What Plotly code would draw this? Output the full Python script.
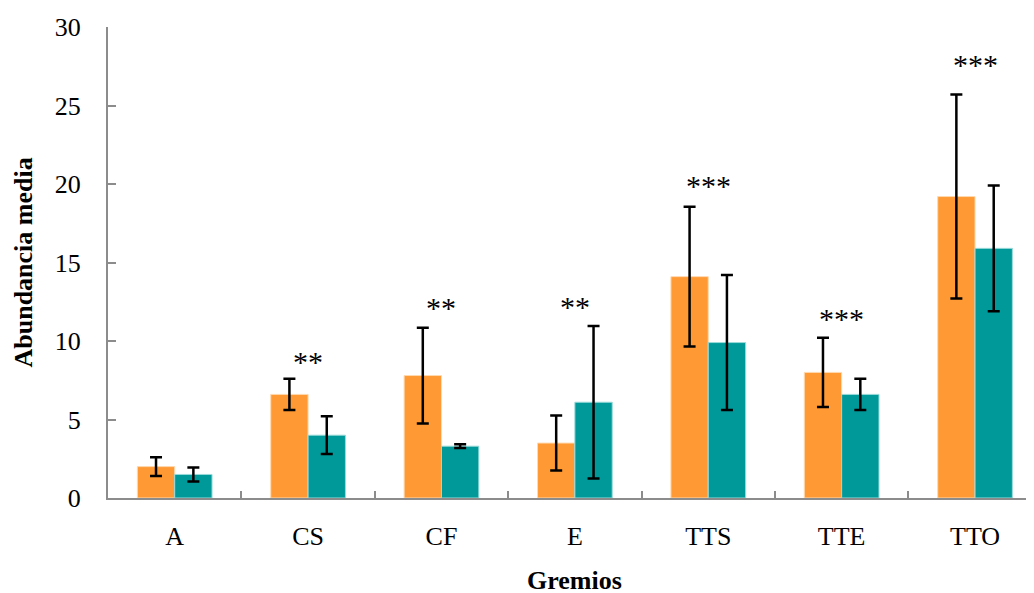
import plotly.graph_objects as go

categories = ["A", "CS", "CF", "E", "TTS", "TTE", "TTO"]
orange_vals = [2.0, 6.6, 7.8, 3.5, 14.1, 8.0, 19.2]
orange_err = [0.6, 1.0, 3.05, 1.75, 4.45, 2.2, 6.5]
teal_vals = [1.5, 4.0, 3.3, 6.1, 9.9, 6.6, 15.9]
teal_err = [0.45, 1.2, 0.12, 4.85, 4.3, 1.0, 4.0]
sig_labels = ["", "**", "**", "**", "***", "***", "***"]
sig_y = [0, 8.9, 12.3, 12.4, 20.1, 11.6, 27.8]
x_title = "Gremios"
y_title = "Abundancia media"

FONT = "Liberation Serif"

fig = go.Figure()
fig.add_trace(go.Bar(
    x=categories, y=orange_vals, name="orange",
    marker=dict(color="#FF9933", line=dict(color="#FFD9B0", width=1)),
    error_y=dict(type="data", array=orange_err, visible=True,
                 color="black", thickness=2.5, width=6),
))
fig.add_trace(go.Bar(
    x=categories, y=teal_vals, name="teal",
    marker=dict(color="#009999", line=dict(color="#9ADADA", width=1)),
    error_y=dict(type="data", array=teal_err, visible=True,
                 color="black", thickness=2.5, width=6),
))

for c, lab, yy in zip(categories, sig_labels, sig_y):
    if lab:
        fig.add_annotation(x=c, y=yy, text=lab, showarrow=False,
                           font=dict(family=FONT, size=30, color="black"),
                           xanchor="center", yanchor="middle", yshift=-3)

# axis titles
fig.add_annotation(xref="x", yref="paper", x=3, y=0, text="<b>" + x_title + "</b>",
                   showarrow=False, font=dict(family=FONT, size=26, color="black"),
                   xanchor="center", yanchor="middle", yshift=-82)
fig.add_annotation(xref="paper", yref="paper", x=0, y=0.5, text="<b>" + y_title + "</b>",
                   showarrow=False, textangle=-90, font=dict(family=FONT, size=26, color="black"),
                   xanchor="center", yanchor="middle", xshift=-85)

fig.update_layout(
    width=1034, height=593,
    margin=dict(l=100, r=8, t=19, b=103),
    paper_bgcolor="white", plot_bgcolor="white",
    barmode="group", bargap=0.44, bargroupgap=0,
    showlegend=False,
    font=dict(family=FONT, size=26, color="black"),
)
fig.update_xaxes(
    type="category", range=[-0.5, 6.442], automargin=False,
    showline=True, linecolor="#8c8c8c", linewidth=2,
    ticks="inside", tickson="boundaries", ticklen=7, tickcolor="#8c8c8c", tickwidth=2,
    ticklabelstandoff=14,
    showgrid=False, zeroline=False,
    tickfont=dict(family=FONT, size=26, color="black"),
)
fig.update_yaxes(
    range=[0, 30], dtick=5, automargin=False,
    showline=True, linecolor="#8c8c8c", linewidth=2,
    ticks="inside", ticklen=8, tickcolor="#8c8c8c", tickwidth=2,
    ticklabelstandoff=20,
    showgrid=False, zeroline=False,
    tickfont=dict(family=FONT, size=26, color="black"),
)

fig.write_html("out.html")
